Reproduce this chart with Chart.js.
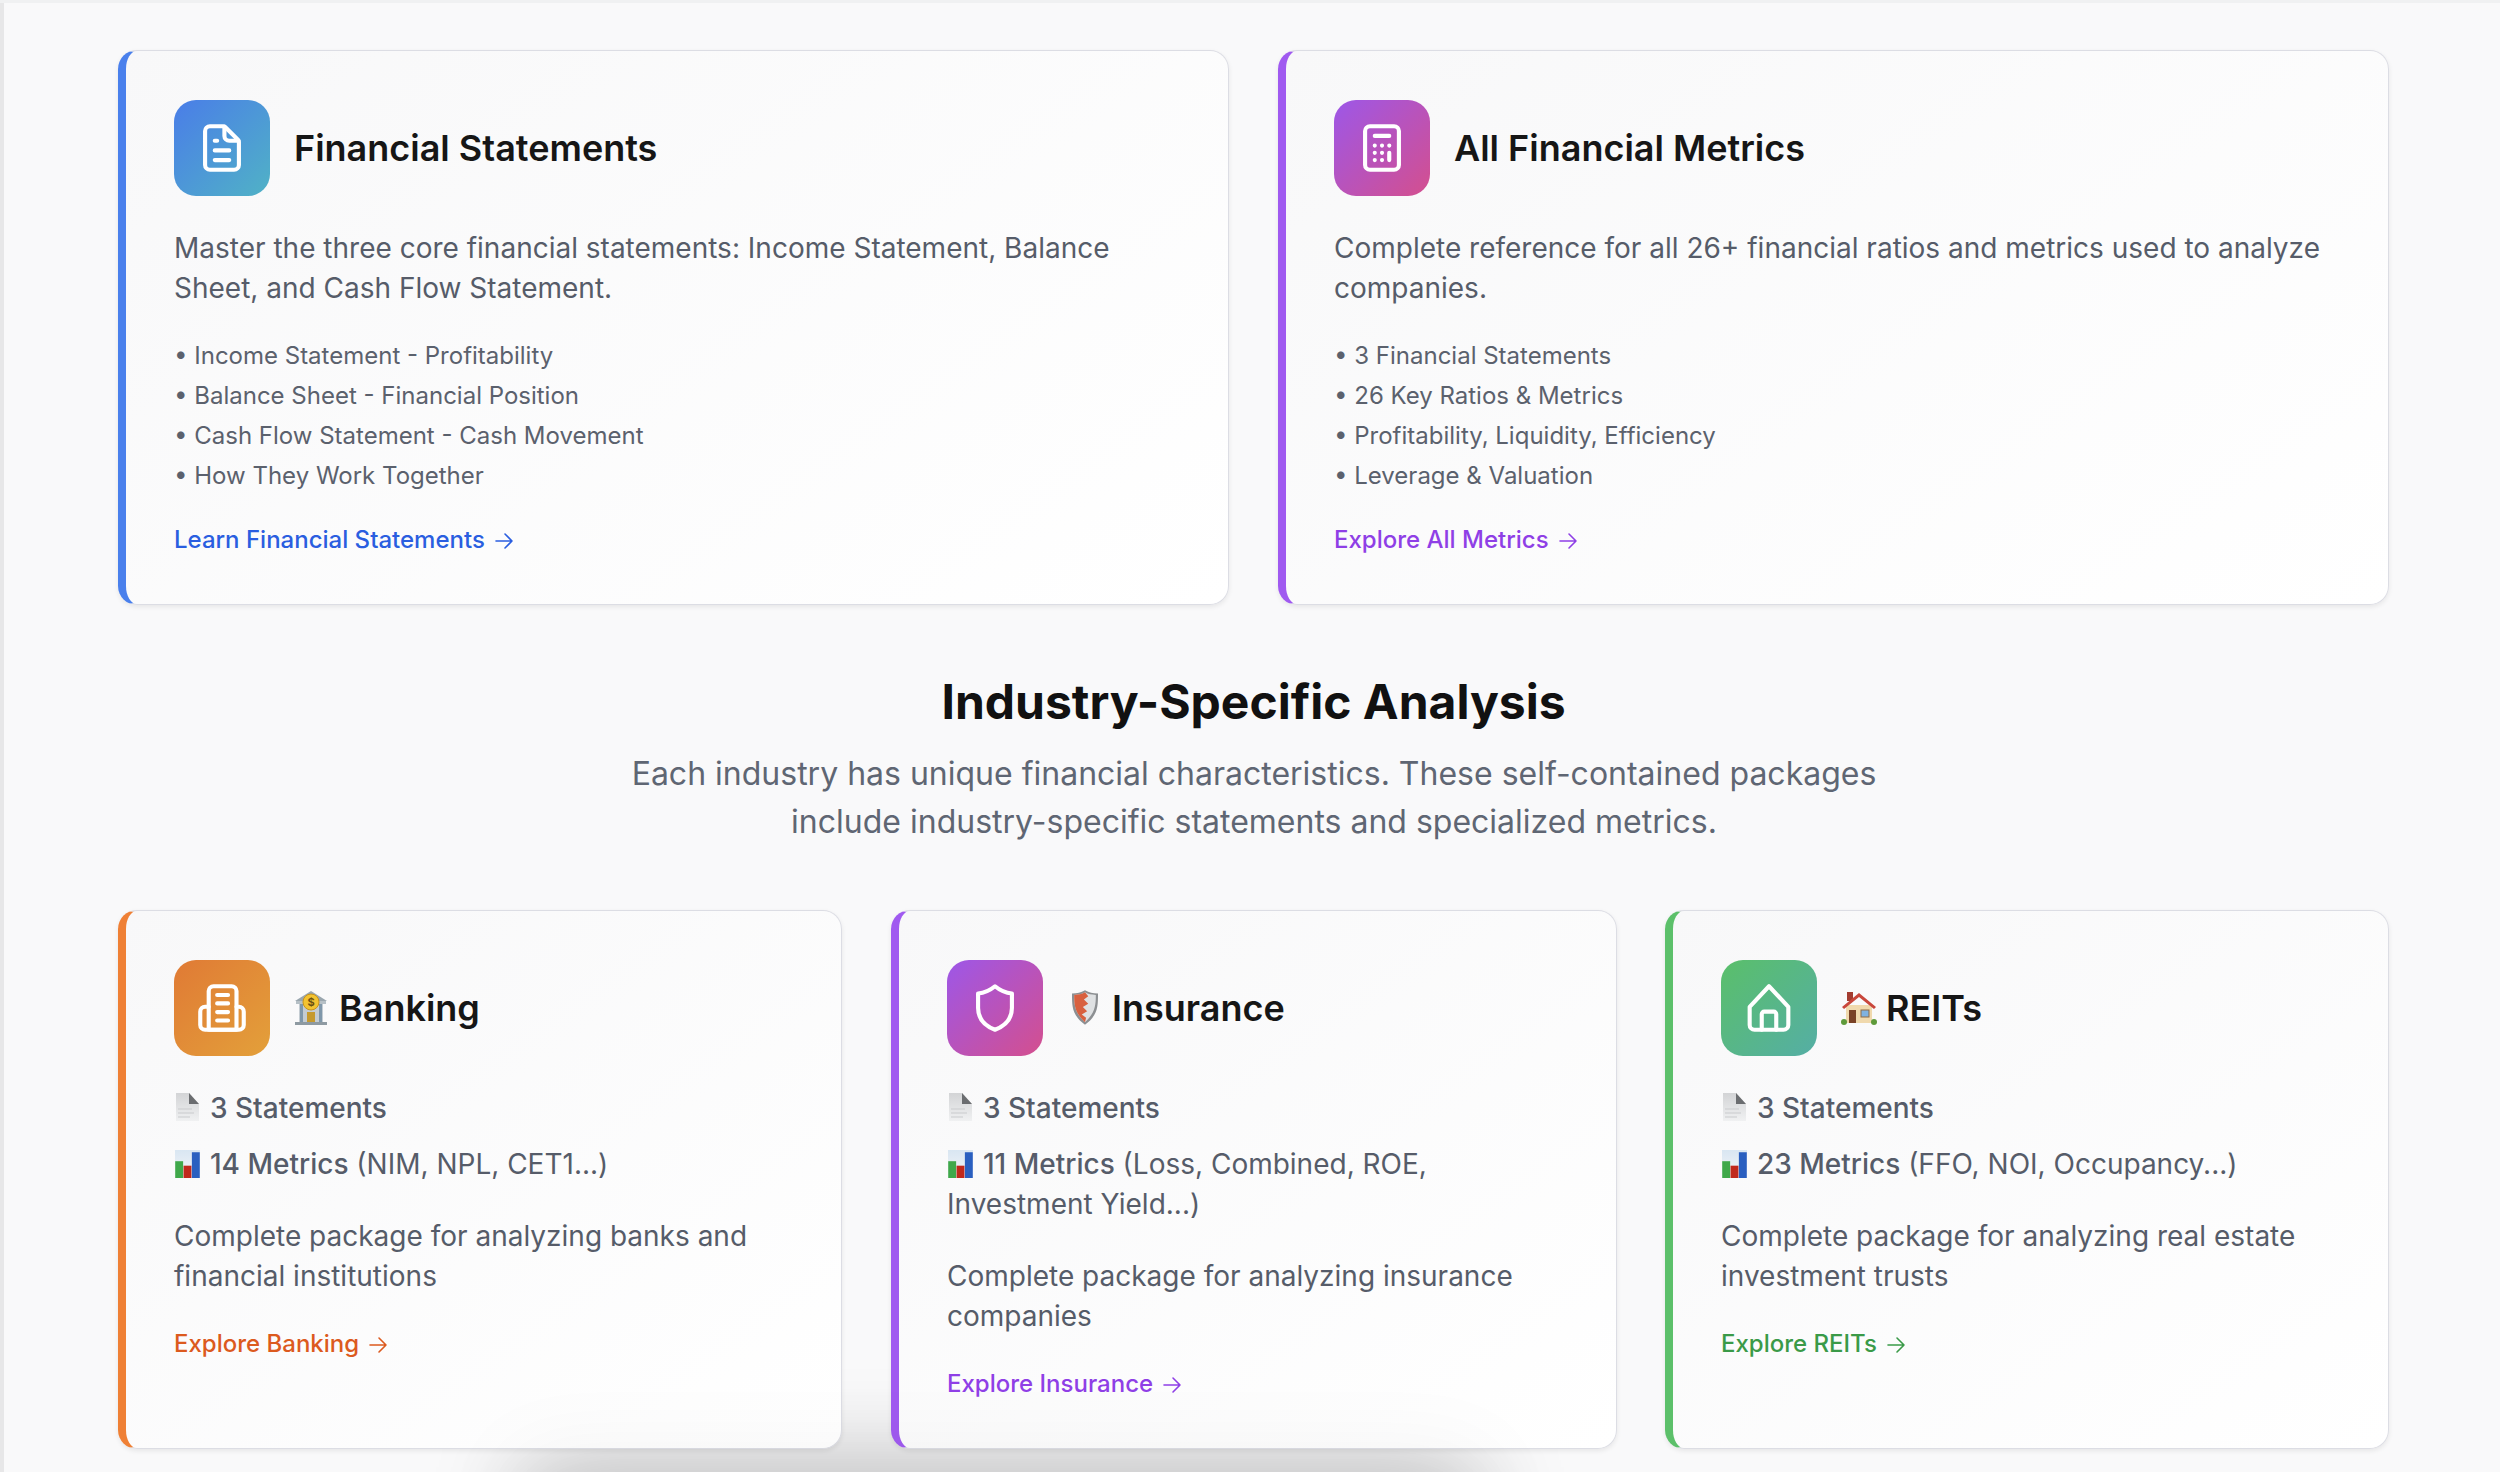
<!DOCTYPE html>
<html><head><meta charset="utf-8">
<script src="https://cdn.jsdelivr.net/npm/chart.js@4"></script>
<style>
html,body{margin:0;padding:0;width:2500px;height:1472px;overflow:hidden;background:#f9f9fa;font-family:Inter,"Noto Sans",sans-serif;-webkit-font-smoothing:antialiased}
#edgeL{position:absolute;left:0;top:0;width:4px;height:1472px;background:#e7e7e8}
#edgeT{position:absolute;left:0;top:0;width:2500px;height:3px;background:#f0f1f2}
.glow{position:absolute;left:570px;top:1510px;width:860px;height:30px;pointer-events:none}
#glowBack{z-index:1;box-shadow:0 0 95px 50px rgba(0,0,0,.2)}
#glowFront{z-index:3;box-shadow:0 0 90px 55px rgba(0,0,0,.05)}
.card{position:absolute;box-sizing:border-box;z-index:2;border:1.6px solid #dcdde4;border-left-width:8px;border-left-style:solid;border-radius:19px;background:linear-gradient(145deg,#f8f8f9 0%,#ffffff 100%);box-shadow:0 2px 5px rgba(0,0,0,.08)}
.t{position:absolute;z-index:4;white-space:nowrap}
.icon{position:absolute;z-index:4;width:96px;height:96px;border-radius:22px;display:flex;align-items:center;justify-content:center}
.icon svg{width:58px;height:58px;fill:none;stroke:#fff;stroke-width:1.7;stroke-linecap:round;stroke-linejoin:round}
.title{font-size:36px;font-weight:600;color:#161616;line-height:48px}
.desc{font-size:28px;color:#565c69;line-height:40px}
.li{font-size:24px;color:#5b616d;line-height:40px}
.meta{font-size:28px;color:#565c69;line-height:40px}
.meta b{font-weight:500}
.link{font-size:24px;font-weight:500;line-height:40px}
.link svg{width:24px;height:24px;fill:none;stroke:currentColor;stroke-width:1.600;stroke-linecap:round;stroke-linejoin:round;vertical-align:-5px;margin-left:7px}
h2{margin:0;font-size:48px;font-weight:700;color:#111;line-height:60px;position:absolute;z-index:4;left:0;width:2507px;text-align:center}
.sub{font-size:32px;color:#5f6673;line-height:48px;left:0;width:2508px;text-align:center}
.emoji{position:absolute;z-index:4}
canvas.bars{position:absolute;z-index:4;background:linear-gradient(180deg,#d9e6f2,#f4f6f8)}
</style></head><body>
<div id="edgeL"></div><div id="edgeT"></div>
<div id="glowBack" class="glow"></div><div id="glowFront" class="glow"></div>
<script>
/* The reference has no chart axes; the only bar marks are the small bar-chart icons. */
const barCategories = ["a","b","c"];
const barValues = [60, 44, 92];
const barColors = ["#3fa84a","#c0281c","#2a5fc0"];
const topTitles = ["Financial Statements","All Financial Metrics"];
const topDescs = [
  ["Master the three core financial statements: Income Statement, Balance","Sheet, and Cash Flow Statement."],
  ["Complete reference for all 26+ financial ratios and metrics used to analyze","companies."]];
const topLists = [
  ["Income Statement - Profitability","Balance Sheet - Financial Position","Cash Flow Statement - Cash Movement","How They Work Together"],
  ["3 Financial Statements","26 Key Ratios & Metrics","Profitability, Liquidity, Efficiency","Leverage & Valuation"]];
const topLinks = ["Learn Financial Statements","Explore All Metrics"];
const sectionTitle = "Industry-Specific Analysis";
const sectionSub = ["Each industry has unique financial characteristics. These self-contained packages","include industry-specific statements and specialized metrics."];
const industryTitles = ["Banking","Insurance","REITs"];
const statementLabel = "3 Statements";
const metricBold = ["14 Metrics","11 Metrics","23 Metrics"];
const metricRest = [["(NIM, NPL, CET1...)"],["(Loss, Combined, ROE,","Investment Yield...)"],["(FFO, NOI, Occupancy...)"]];
const industryDescs = [
  ["Complete package for analyzing banks and","financial institutions"],
  ["Complete package for analyzing insurance","companies"],
  ["Complete package for analyzing real estate","investment trusts"]];
const industryLinks = ["Explore Banking","Explore Insurance","Explore REITs"];

const P = {
 doc:'<path d="M7 21h10a2 2 0 002-2V9.4a1 1 0 00-.3-.7l-5.4-5.4a1 1 0 00-.7-.3H7a2 2 0 00-2 2v14a2 2 0 002 2z"/><path d="M13 3.2V7a2 2 0 002 2h3.8"/><path d="M9 9h1M9 13h6M9 17h6"/>',
 calc:'<path d="M7 21h10a2 2 0 002-2V5a2 2 0 00-2-2H7a2 2 0 00-2 2v14a2 2 0 002 2z"/><path d="M9 7h6M15 17v-3M12 17h.01M9 17h.01M9 14h.01M12 14h.01M15 11h.01M12 11h.01M9 11h.01"/>',
 bank:'<path d="M6.500 21V5a2 2 0 012-2h7.500a2 2 0 012 2v16z"/><path d="M6.500 11.500H5a2 2 0 00-2 2V19a2 2 0 002 2h14a2 2 0 002-2v-5.500a2 2 0 00-2-2h-1"/><path d="M10 6.600h4.500M10 10.100h4.500M10 13.700h4.500M10 17.200h4.500"/>',
 shield:'<path d="M12 3c2.3 1.9 4.6 2.8 7 3v6c0 4.4-2.8 7.4-7 9-4.2-1.6-7-4.6-7-9V6c2.400-.2 4.700-1.100 7-3z"/>',
 home:'<path d="M4 11.500L12 3l8 8.500V19a2 2 0 01-2 2H6a2 2 0 01-2-2z"/><path d="M9 21v-6.500a1 1 0 011-1h4a1 1 0 011 1V21"/>'
};
const ARROW='<svg viewBox="0 0 24 24"><path d="M4 12h16M13 5l7 7-7 7"/></svg>';
const body=document.body;
function box(cls,x,y,w,h,css){const e=document.createElement('div');e.className=cls;e.style.cssText=`left:${x}px;top:${y}px;`+(w?`width:${w}px;height:${h}px;`:'')+(css||'');body.appendChild(e);return e;}
function text(cls,x,yc,html,lh,css){const e=box('t '+cls,x,yc-lh/2,0,0,css);e.innerHTML=html;return e;}
function esc(s){return s.replace(/&/g,'&amp;');}
function icon(x,y,g,name){const e=box('icon',x,y,96,96,`background:linear-gradient(135deg,${g[0]},${g[1]})`);e.innerHTML=`<svg viewBox="0 0 24 24">${P[name]}</svg>`;}
function emoji(x,y,w,h,inner,vb){const e=document.createElementNS('http://www.w3.org/2000/svg','svg');e.setAttribute('class','emoji');e.setAttribute('viewBox',vb);e.style.cssText=`left:${x}px;top:${y}px;width:${w}px;height:${h}px`;e.innerHTML=inner;body.appendChild(e);}
const PAGE='<defs><linearGradient id="pg" x1="0" y1="0" x2="0" y2="1"><stop offset="0" stop-color="#d3d4d6"/><stop offset="1" stop-color="#f0f1f2"/></linearGradient></defs><path d="M1 0h13l10 11v17H1z" fill="url(#pg)"/><path d="M14 0v11h10z" fill="#6b6d70"/><path d="M3 16h14M3 20h16M3 24h12" stroke="#c9cbcd" stroke-width="1"/>';
const BANK='<path d="M18 1L2 11h32z" fill="#9aa6ae"/><rect x="3" y="11" width="30" height="3" fill="#b6c0c6"/><rect x="6" y="14" width="24" height="18" fill="#c4ccd2"/><path d="M7 14h3v18H7zM26 14h3v18h-3z" fill="#7f97aa"/><rect x="14" y="22" width="8" height="10" fill="#c69a2e"/><rect x="2" y="32" width="32" height="3" fill="#8e9aa2"/><circle cx="18" cy="12" r="8" fill="#f3c331" stroke="#c8931c"/><text x="18" y="16" font-size="11" font-family="Inter" font-weight="700" text-anchor="middle" fill="#6b4f10">$</text>';
const SHIELD='<path d="M12 0c4 2 7 3 12 3 0 12 0 20-12 29C0 23 0 15 0 3c5 0 8-1 12-3z" fill="#8c8f92"/><path d="M12 2c3 2 6 2 10 2.500 0 10-1 17-10 25C3 21.500 2 14.500 2 4.500 6 4 9 4 12 2z" fill="#dfe1e3"/><path d="M12 2C9 4 6 4 2 4.500c0 10 1 17 10 25l1-4-4-3 5-3-4-4 5-3-4-4 4-3z" fill="#d8603f"/>';
const HOUSE='<rect x="6" y="2" width="6" height="9" fill="#a33c30"/><path d="M5 15h26v18H5z" fill="#f0d9ad"/><path d="M18 3L1 17l2 2L18 7l15 12 2-2z" fill="#c9473c"/><rect x="8" y="20" width="7" height="13" fill="#7a4226"/><rect x="20" y="20" width="8" height="7" fill="#7fb2e0" stroke="#8d6a45"/><circle cx="3" cy="32" r="3" fill="#5e9a3a"/><circle cx="33" cy="32" r="3" fill="#5e9a3a"/>';

const topX=[118,1278], topW=[1111,1111], topG=[["#4a7de8","#50b2c6"],["#9d57e8","#d44f8e"]], topB=["#4a80ec","#a05af0"], topI=['doc','calc'], topC=["#2a5ee0","#8f3fe6"];
topX.forEach((x,i)=>{
  box('card',x,50,topW[i],555,`border-left-color:${topB[i]}`);
  const cx=x+56;
  icon(cx,100,topG[i],topI[i]);
  text('title',cx+120,148,topTitles[i],48);
  topDescs[i].forEach((l,k)=>text('desc',cx,247.500+k*40,l,40));
  topLists[i].forEach((l,k)=>text('li',cx,356+k*40,'• '+esc(l),40));
  text('link',cx,540,topLinks[i]+ARROW,40,`color:${topC[i]}`);
});
const h=document.createElement('h2');h.textContent=sectionTitle;h.style.top='672px';body.appendChild(h);
sectionSub.forEach((l,k)=>text('sub',0,773.500+k*48,l,48));

const inX=[118,891,1665], inW=[724,726,724], inG=[["#e07a35","#e3a03a"],["#9d57e8","#d44f8e"],["#5abf6a","#55aea5"]], inB=["#ef8035","#a05af0","#5cc06a"], inC=["#dc5a1e","#8f3fe6","#3a9a48"], inI=['bank','shield','home'];
const emo=[[BANK,293,990,36,35,"1 0 34 35",339],[SHIELD,1072,990,26,35,"0 0 24 32",1112],[HOUSE,1841,990,36,35,"0 0 36 35",1886]];
const charts=[];
inX.forEach((x,i)=>{
  box('card',x,910,inW[i],538.500,`border-left-color:${inB[i]}`);
  const cx=x+56, two=metricRest[i].length>1, shift=two?40:0;
  icon(cx,960,inG[i],inI[i]);
  const m=emo[i]; emoji(m[1],m[2],m[3],m[4],m[0],m[5]);
  text('title',m[6],1008,industryTitles[i],48);
  emoji(cx+1,1093,25,28,PAGE,"0 0 25 28");
  text('meta',cx+36,1108,'<b>'+statementLabel+'</b>',40);
  const cv=document.createElement('canvas');cv.className='bars';cv.width=25;cv.height=28;cv.style.cssText=`left:${cx+1}px;top:1149.500px;width:25px;height:28px`;body.appendChild(cv);charts.push(cv);
  text('meta',cx+36,1163.500,'<b>'+metricBold[i]+'</b> '+metricRest[i][0],40);
  if(two) text('meta',cx,1203.500,metricRest[i][1],40);
  industryDescs[i].forEach((l,k)=>text('desc',cx,1236+shift+k*40,l,40));
  text('link',cx,1344+shift,industryLinks[i]+ARROW,40,`color:${inC[i]}`);
});
charts.forEach(cv=>new Chart(cv,{type:'bar',data:{labels:barCategories,datasets:[{data:barValues,backgroundColor:barColors,barPercentage:.95,categoryPercentage:1,borderWidth:0}]},options:{responsive:false,animation:false,devicePixelRatio:1,layout:{padding:0},plugins:{legend:{display:false},tooltip:{enabled:false}},scales:{x:{display:false},y:{display:false,min:0,max:100}}}}));
</script>
</body></html>
